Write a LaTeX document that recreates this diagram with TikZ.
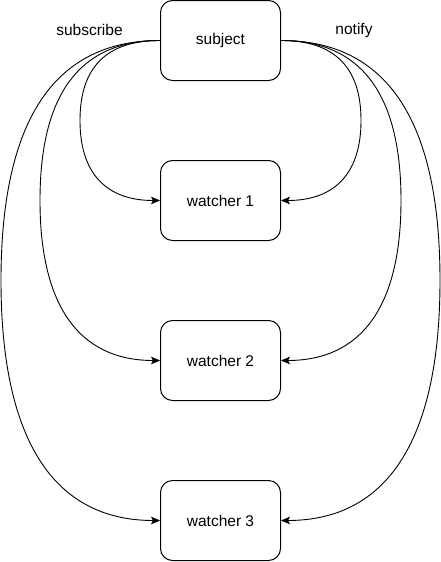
\documentclass[tikz,border=0pt]{standalone}
\usepackage{fontspec}
\setmainfont{Liberation Sans}
\usetikzlibrary{arrows.meta,calc}
\begin{document}
\begin{tikzpicture}[x=1pt,y=-1pt,
  box/.style={draw,line width=1pt,rounded corners=12pt,minimum width=120pt,minimum height=80pt,inner sep=0pt,font=\fontsize{15.5}{18}\selectfont},
  lbl/.style={inner sep=0pt,font=\fontsize{15.5}{18}\selectfont},
  link/.style={line width=0.9pt,-{Stealth[length=9pt,width=7.5pt,inset=2pt]}}]
\useasboundingbox (0,0) rectangle (441,562);
\node[box] (s) at (220.5,40.5) {subject};
\node[box] (w1) at (220.5,200.5) {watcher 1};
\node[box] (w2) at (220.5,360.5) {watcher 2};
\node[box] (w3) at (220.5,520.5) {watcher 3};
\node[lbl] (sub) at (89.5,30) {subscribe};
\node[lbl] (not) at (354,30) {notify};
% left side
\draw[link] (s.west) .. controls ($(s.west)!2/3!(80,40.5)$) and ($(80,120.5)!2/3!(80,40.5)$) .. (80,120.5)
  .. controls ($(80,120.5)!2/3!(80,200.5)$) and ($(w1.west)!2/3!(80,200.5)$) .. (w1.west);
\draw[link] (s.west) .. controls ($(s.west)!2/3!(40,40.5)$) and ($(40,200.5)!2/3!(40,40.5)$) .. (40,200.5)
  .. controls ($(40,200.5)!2/3!(40,360.5)$) and ($(w2.west)!2/3!(40,360.5)$) .. (w2.west);
\draw[link] (s.west) .. controls ($(s.west)!2/3!(1,40.5)$) and ($(1,280.5)!2/3!(1,40.5)$) .. (1,280.5)
  .. controls ($(1,280.5)!2/3!(1,520.5)$) and ($(w3.west)!2/3!(1,520.5)$) .. (w3.west);
% right side
\draw[link] (s.east) .. controls ($(s.east)!2/3!(361,40.5)$) and ($(361,120.5)!2/3!(361,40.5)$) .. (361,120.5)
  .. controls ($(361,120.5)!2/3!(361,200.5)$) and ($(w1.east)!2/3!(361,200.5)$) .. (w1.east);
\draw[link] (s.east) .. controls ($(s.east)!2/3!(401,40.5)$) and ($(401,200.5)!2/3!(401,40.5)$) .. (401,200.5)
  .. controls ($(401,200.5)!2/3!(401,360.5)$) and ($(w2.east)!2/3!(401,360.5)$) .. (w2.east);
\draw[link] (s.east) .. controls ($(s.east)!2/3!(440,40.5)$) and ($(440,280.5)!2/3!(440,40.5)$) .. (440,280.5)
  .. controls ($(440,280.5)!2/3!(440,520.5)$) and ($(w3.east)!2/3!(440,520.5)$) .. (w3.east);
\end{tikzpicture}
\end{document}
